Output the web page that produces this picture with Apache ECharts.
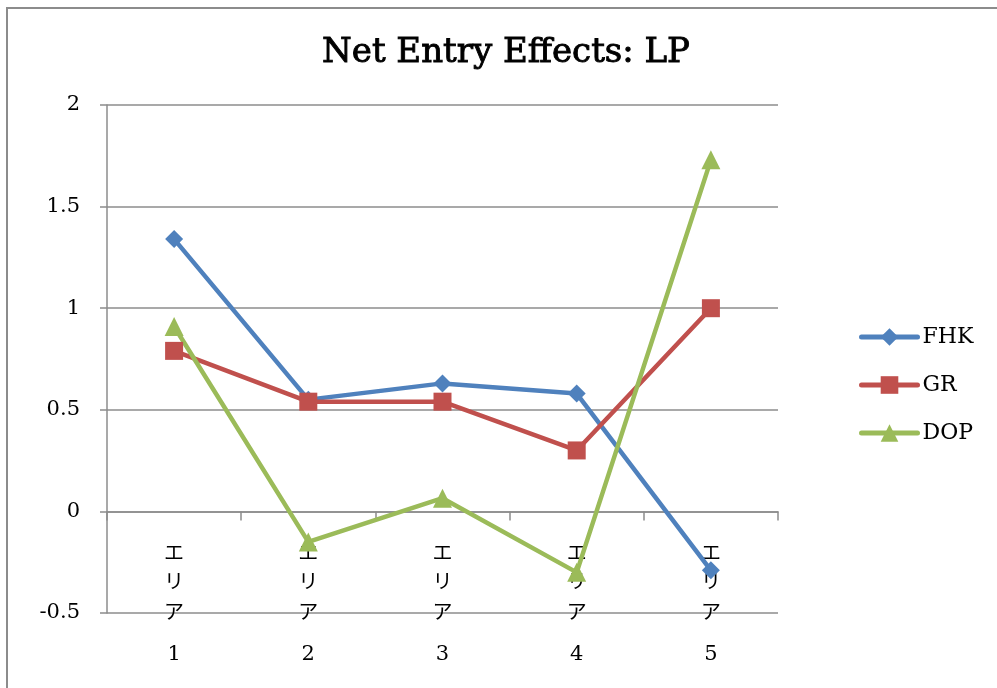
<!DOCTYPE html>
<html>
<head>
<meta charset="utf-8">
<script src="https://cdn.jsdelivr.net/npm/echarts@6/dist/echarts.min.js"></script>
<style>
  html, body { margin: 0; padding: 0; background: #fff; }
  #chart { width: 997px; height: 688px; }
</style>
</head>
<body>
<div id="chart"></div>
<script>
// Net entry effects by area (LP)
const categories = ['エリア1', 'エリア2', 'エリア3', 'エリア4', 'エリア5'];
const fhk = [1.34, 0.55, 0.63, 0.58, -0.29];
const gr  = [0.79, 0.54, 0.54, 0.30, 1.00];
const dop = [0.91, -0.15, 0.065, -0.30, 1.73];

const serif = "'DejaVu Serif', 'Liberation Serif', 'Noto Sans CJK JP', serif";
const gray = '#8c8c8c';

const chart = echarts.init(document.getElementById('chart'));

function lineSeries(name, data, color, symbol, size) {
  return {
    name: name,
    type: 'line',
    data: data,
    symbol: symbol,
    symbolSize: size,
    showAllSymbol: true,
    lineStyle: { color: color, width: 4.5 },
    itemStyle: { color: color },
    emphasis: { disabled: true },
    animation: false
  };
}

chart.setOption({
  animation: false,
  title: {
    text: 'Net Entry Effects: LP',
    left: 506,
    top: 36,
    padding: 0,
    textAlign: 'center',
    textStyle: {
      fontFamily: serif, fontSize: 34, fontWeight: 'normal', color: '#000',
      textBorderColor: '#000', textBorderWidth: 0.9
    }
  },
  graphic: [{
    type: 'rect',
    shape: { x: 7, y: 8, width: 1100, height: 800 },
    style: { fill: 'none', stroke: gray, lineWidth: 2 },
    silent: true,
    z: -1
  }],
  legend: {
    orient: 'vertical',
    left: 859,
    top: 326,
    padding: 0,
    itemWidth: 56,
    itemHeight: 22,
    itemGap: 26,
    lineStyle: { width: 5, cap: 'round' },
    textStyle: { fontFamily: serif, fontSize: 22, color: '#000' },
    data: ['FHK', 'GR', 'DOP']
  },
  grid: { left: 107, right: 219, top: 105, bottom: 75, containLabel: false, outerBoundsMode: 'none' },
  xAxis: {
    type: 'category',
    data: categories,
    boundaryGap: true,
    axisLine: { onZero: true, lineStyle: { color: gray, width: 1.5 } },
    axisTick: { show: true, length: 9, lineStyle: { color: gray, width: 1.5 } },
    axisLabel: {
      margin: -73,
      interval: 0,
      formatter: function (v) {
        const chars = v.split('');
        const num = chars.filter(c => /[0-9]/.test(c)).join('');
        const kana = chars.filter(c => !/[0-9]/.test(c));
        return kana.map(c => '{k|' + c + '}').join('\n') + '\n{n|' + num + '}';
      },
      rich: {
        k: { fontFamily: serif, fontSize: 20, lineHeight: 29.5, color: '#000' },
        n: { fontFamily: serif, fontSize: 21, lineHeight: 52, color: '#000' }
      }
    },
    splitLine: { show: false }
  },
  yAxis: {
    type: 'value',
    min: -0.5,
    max: 2,
    interval: 0.5,
    axisLine: { show: true, lineStyle: { color: gray, width: 1.5 } },
    axisTick: { show: true, length: 7, lineStyle: { color: gray, width: 1.5 } },
    axisLabel: { fontFamily: serif, fontSize: 21, color: '#000', margin: 27 },
    splitLine: { show: true, lineStyle: { color: gray, width: 1.5 } }
  },
  series: [
    lineSeries('FHK', fhk, '#4F81BD', 'diamond', 18),
    lineSeries('GR', gr, '#C0504D', 'rect', 18),
    lineSeries('DOP', dop, '#9BBB59', 'triangle', 19)
  ]
});
</script>
</body>
</html>
